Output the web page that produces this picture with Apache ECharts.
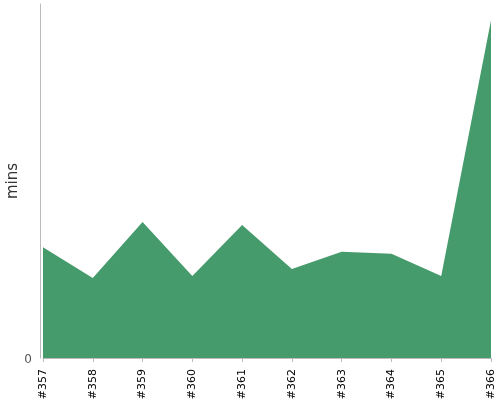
<!DOCTYPE html>
<html><head><meta charset="utf-8">
<script src="https://cdn.jsdelivr.net/npm/echarts@6/dist/echarts.min.js"></script>
<style>html,body{margin:0;padding:0;background:#fff}#c{width:500px;height:400px}</style>
</head><body><div id="c"></div>
<script>
const categories = ['#357','#358','#359','#360','#361','#362','#363','#364','#365','#366'];
const mins = [21.9, 15.8, 26.9, 16.2, 26.3, 17.6, 21.0, 20.6, 16.2, 66.8];
const yMax = 70;

const chart = echarts.init(document.getElementById('c'), null, {renderer:'canvas'});
chart.setOption({
  animation: false,
  grid: {left: 43, right: 9, top: 4, bottom: 42, containLabel: false, outerBoundsMode: 'none'},
  xAxis: {
    type: 'category', data: categories, boundaryGap: false, offset: 5,
    axisLine: {lineStyle: {color: '#bbb'}},
    axisTick: {show: true, length: 4, lineStyle: {color: '#bbb'}, alignWithLabel: true},
    axisLabel: {rotate: 90, color: '#000', fontSize: 11, fontFamily: 'DejaVu Sans', margin: 6}
  },
  yAxis: {
    type: 'value', min: 0, max: yMax, interval: yMax, offset: 3,
    name: 'mins', nameLocation: 'middle', nameGap: 19, nameRotate: 90, nameMoveOverlap: false,
    nameTextStyle: {fontSize: 15, color: '#333', fontFamily: 'DejaVu Sans'},
    axisLine: {show: true, lineStyle: {color: '#bbb'}},
    axisTick: {show: false},
    splitLine: {show: false},
    axisLabel: {color: '#555', fontSize: 12, fontFamily: 'DejaVu Sans', margin: 8, verticalAlign: 'top', padding: [-4, 0, 0, 0],
      formatter: v => v === 0 ? '0' : ''}
  },
  series: [{
    type: 'line', data: mins, symbol: 'none',
    lineStyle: {width: 0},
    areaStyle: {color: '#459b6c', opacity: 1}
  }]
});
</script></body></html>
